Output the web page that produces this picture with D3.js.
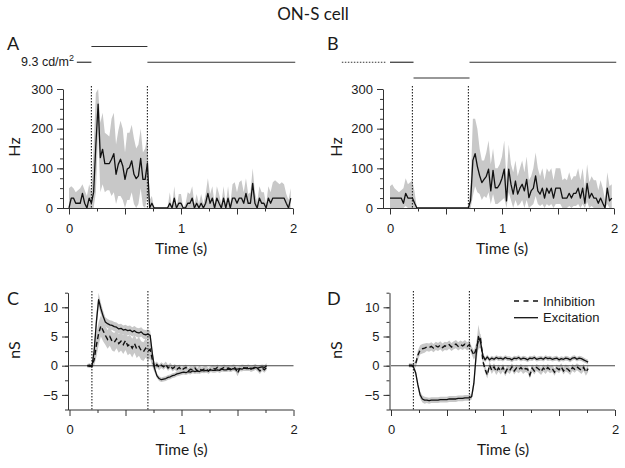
<!DOCTYPE html>
<html>
<head>
<meta charset="utf-8">
<script src="https://cdn.jsdelivr.net/npm/d3@7"></script>
<style>
  body { margin: 0; background: #fff; }
  svg text { fill: #1a1a1a; }
</style>
</head>
<body>
<div id="chart"></div>
<script>
// ---- data ----
// spike rate histograms, one value per 20 ms bin starting at t = 0
var binWidth = 0.02;

var psthA = [0, 25, 25, 12, 12, 12, 37, 12, 0, 25,
    12, 40, 160, 262, 127, 148, 112, 112, 112, 123,
    137, 85, 110, 123, 106, 72, 98, 102, 119, 85,
    74, 81, 125, 72, 72, 113, 0, 12, 0, 0,
    0, 0, 0, 0, 0, 12, 0, 25, 0, 12,
    12, 0, 0, 12, 12, 25, 0, 12, 0, 12,
    0, 12, 37, 12, 25, 0, 25, 12, 0, 25,
    0, 25, 0, 25, 25, 12, 25, 25, 12, 37,
    12, 12, 62, 12, 0, 25, 12, 12, 0, 25,
    12, 25, 25, 25, 25, 25, 25, 12, 0, 25];
var psthAHi = [50, 55, 50, 40, 45, 50, 60, 45, 30, 60,
    40, 150, 290, 300, 215, 240, 190, 185, 180, 225,
    240, 160, 195, 220, 200, 140, 190, 190, 210, 175,
    150, 160, 200, 140, 150, 180, 20, 30, 0, 0,
    0, 0, 0, 0, 0, 40, 0, 55, 0, 35,
    35, 0, 10, 40, 35, 55, 10, 35, 10, 35,
    10, 35, 75, 35, 55, 10, 55, 35, 10, 55,
    10, 55, 10, 60, 65, 40, 65, 70, 40, 75,
    35, 40, 100, 40, 15, 55, 40, 40, 10, 55,
    40, 65, 70, 65, 60, 65, 60, 35, 20, 50];
var psthALo = [0, 0, 0, 0, 0, 0, 0, 0, 0, 0,
    0, 0, 40, 190, 40, 60, 40, 45, 45, 30,
    40, 10, 30, 30, 20, 0, 20, 20, 40, 10,
    0, 10, 50, 5, 0, 30, 0, 0, 0, 0,
    0, 0, 0, 0, 0, 0, 0, 0, 0, 0,
    0, 0, 0, 0, 0, 0, 0, 0, 0, 0,
    0, 0, 0, 0, 0, 0, 0, 0, 0, 0,
    0, 0, 0, 0, 0, 0, 0, 0, 0, 0,
    0, 0, 0, 0, 0, 0, 0, 0, 0, 0,
    0, 0, 0, 0, 0, 0, 0, 0, 0, 0];

var psthB = [25, 25, 25, 25, 25, 25, 12, 37, 25, 25,
    25, 12, 0, 0, 0, 0, 0, 0, 0, 0,
    0, 0, 0, 0, 0, 0, 0, 0, 0, 0,
    0, 0, 0, 0, 0, 0, 20, 120, 137, 105,
    82, 64, 72, 80, 98, 43, 95, 51, 51, 60,
    75, 98, 18, 98, 60, 35, 68, 35, 50, 60,
    43, 72, 26, 43, 50, 81, 43, 35, 50, 25,
    50, 37, 50, 25, 50, 50, 50, 25, 25, 25,
    37, 25, 37, 37, 50, 25, 50, 12, 62, 25,
    37, 25, 25, 12, 25, 12, 0, 50, 18, 25];
var psthBHi = [55, 60, 50, 45, 40, 45, 50, 75, 60, 65,
    70, 40, 0, 0, 0, 0, 0, 0, 0, 0,
    0, 0, 0, 0, 0, 0, 0, 0, 0, 0,
    0, 0, 0, 0, 0, 0, 60, 225, 225, 200,
    150, 120, 120, 140, 170, 110, 150, 100, 100, 110,
    130, 170, 70, 160, 110, 90, 120, 80, 100, 120,
    90, 130, 70, 80, 100, 140, 100, 80, 100, 70,
    100, 90, 100, 70, 100, 100, 100, 70, 75, 70,
    90, 70, 80, 80, 100, 70, 100, 50, 110, 65,
    80, 70, 70, 45, 70, 50, 20, 90, 55, 60];
var psthBLo = [0, 0, 0, 0, 0, 0, 0, 5, 0, 0,
    0, 0, 0, 0, 0, 0, 0, 0, 0, 0,
    0, 0, 0, 0, 0, 0, 0, 0, 0, 0,
    0, 0, 0, 0, 0, 0, 0, 30, 55, 40,
    35, 20, 30, 25, 40, 10, 35, 10, 10, 15,
    20, 25, 0, 40, 20, 0, 20, 5, 10, 20,
    0, 20, 0, 5, 10, 30, 10, 5, 10, 0,
    10, 5, 10, 0, 10, 10, 10, 0, 0, 0,
    5, 0, 5, 5, 10, 0, 10, 0, 15, 0,
    5, 0, 0, 0, 0, 0, 0, 10, 0, 0];

// conductances (nS), sampled every 20 ms from t = 0.16 s
var condStart = 0.16, condStep = 0.02;

var excC = [0, 0.1, -0.2, 2.5, 7.5, 11.3, 9.8, 8.5, 7.5, 7.2,
    7.0, 6.9, 6.7, 6.6, 6.3, 6.4, 6.1, 6.2, 6.0, 6.1,
    5.8, 6.0, 5.7, 5.6, 5.8, 5.4, 5.3, 5.4, 5.2, 2.0,
    -0.5, -1.7, -2.2, -2.4, -2.3, -2.2, -2.0, -1.9, -1.7, -1.6,
    -1.4, -1.3, -1.2, -1.1, -1.2, -1.0, -1.1, -0.9, -1.0, -0.9,
    -1.0, -0.8, -0.9, -0.8, -0.9, -0.7, -0.8, -0.8, -0.7, -0.8,
    -0.6, -0.7, -0.7, -0.6, -0.7, -0.5, -0.6, -0.6, -0.5, -0.6,
    -0.4, -0.5, -0.5, -0.4, -0.5, -0.3, -0.4, -0.3, -0.2, -0.3,
    0.0];
var inhC = [0, -0.1, 0, 1.0, 3.5, 5.5, 6.8, 6.0, 5.2, 4.5,
    5.0, 4.2, 4.0, 4.6, 3.8, 4.2, 3.6, 4.3, 3.4, 3.7,
    3.0, 3.8, 2.9, 3.3, 2.6, 2.4, 3.0, 2.5, 2.8, 1.0,
    -0.4, 0.2, -0.3, 0.1, -0.2, 0.2, -0.4, 0.0, -0.5, -0.2,
    -0.6, -0.3, -0.8, -0.5, -0.3, -0.9, -0.6, -0.7, -0.4, -0.9,
    -0.5, -0.8, -0.6, -0.5, -0.9, -0.6, -0.4, -0.6, -0.3, -0.7,
    -0.5, -0.3, -0.5, -0.4, -0.6, -0.3, -0.4, -1.3, -0.5, -0.3,
    -0.4, -0.4, -0.3, -0.6, -0.4, -0.2, -0.5, -0.9, -0.4, -0.7,
    -0.3];
var excCSd = [0.3, 0.3, 0.3, 0.8, 1.5, 1.2, 1.0, 0.9, 0.8, 0.8,
    0.8, 0.8, 0.8, 0.8, 0.8, 0.8, 0.8, 0.8, 0.8, 0.8,
    0.8, 0.8, 0.8, 0.8, 0.8, 0.8, 0.8, 0.8, 0.8, 0.8,
    0.6, 0.4, 0.4, 0.4, 0.4, 0.4, 0.4, 0.4, 0.4, 0.4,
    0.4, 0.4, 0.4, 0.4, 0.4, 0.4, 0.4, 0.4, 0.4, 0.4,
    0.4, 0.4, 0.4, 0.4, 0.4, 0.4, 0.4, 0.4, 0.4, 0.4,
    0.4, 0.4, 0.4, 0.4, 0.4, 0.4, 0.4, 0.4, 0.4, 0.4,
    0.4, 0.4, 0.4, 0.4, 0.4, 0.4, 0.4, 0.4, 0.4, 0.4,
    0.4];
var inhCSd = [0.3, 0.3, 0.3, 1.0, 2.0, 2.0, 1.8, 1.8, 1.6, 1.6,
    1.6, 1.6, 1.6, 1.6, 1.6, 1.6, 1.6, 1.6, 1.6, 1.6,
    1.6, 1.6, 1.6, 1.6, 1.6, 1.6, 1.6, 1.6, 1.6, 1.2,
    0.8, 0.5, 0.5, 0.5, 0.5, 0.5, 0.5, 0.5, 0.5, 0.5,
    0.5, 0.5, 0.5, 0.5, 0.5, 0.5, 0.5, 0.5, 0.5, 0.5,
    0.5, 0.5, 0.5, 0.5, 0.5, 0.5, 0.5, 0.5, 0.5, 0.5,
    0.5, 0.5, 0.5, 0.5, 0.5, 0.5, 0.5, 0.5, 0.5, 0.5,
    0.5, 0.5, 0.5, 0.5, 0.5, 0.5, 0.5, 0.5, 0.5, 0.5,
    0.5];

var excD = [0.1, 0.1, -0.2, -1.2, -3.3, -5.0, -5.7, -5.9, -5.9, -6.0,
    -5.9, -5.9, -5.9, -5.9, -5.8, -5.8, -5.8, -5.8, -5.7, -5.7,
    -5.7, -5.7, -5.6, -5.6, -5.6, -5.5, -5.5, -5.5, -5.3, -3.0,
    1.8, 5.0, 4.0, 1.8, 1.0, 1.5, 1.0, 1.3, 1.1, 1.4,
    1.2, 1.3, 1.1, 1.4, 1.2, 1.2, 1.0, 1.3, 1.2, 1.4,
    1.1, 1.3, 1.2, 1.0, 1.3, 1.2, 1.4, 1.1, 1.2, 1.3,
    1.1, 1.4, 1.2, 1.3, 1.1, 1.2, 1.3, 1.0, 1.2, 1.1,
    1.3, 1.2, 1.0, 1.3, 1.4, 1.1, 1.3, 1.2, 1.0, 0.8,
    0.6];
var inhD = [0, 0, 0.1, 0.3, 1.8, 2.7, 2.9, 3.0, 3.2, 3.1,
    3.3, 3.0, 3.4, 3.2, 3.5, 3.1, 3.4, 3.3, 3.6, 3.2,
    3.5, 3.7, 3.3, 3.6, 3.4, 3.7, 3.3, 3.6, 2.6, 1.8,
    2.8, 4.3, 4.6, 0.8, -0.6, -1.6, 0.1, -0.8, -0.2, -1.0,
    -0.4, -0.9, -0.3, -1.2, -0.5, -0.8, -0.2, -0.9, -0.4, -0.7,
    -0.3, -0.8, -0.5, -0.6, -1.6, -0.4, -0.9, -0.3, -0.6, -1.0,
    -0.4, -0.8, -0.3, -0.7, -0.5, -1.1, -0.4, -0.7, -0.2, -0.9,
    -0.4, -0.6, -1.0, -0.3, -0.6, -0.2, -0.5, -0.8, -0.3, -1.1,
    -0.5];
var excDSd = [0.3, 0.3, 0.3, 0.5, 0.6, 0.6, 0.6, 0.6, 0.5, 0.5,
    0.5, 0.5, 0.5, 0.5, 0.5, 0.5, 0.5, 0.5, 0.5, 0.5,
    0.5, 0.5, 0.5, 0.5, 0.5, 0.5, 0.5, 0.5, 0.5, 1.0,
    1.5, 2.0, 1.0, 0.5, 0.4, 0.4, 0.4, 0.4, 0.4, 0.4,
    0.4, 0.4, 0.4, 0.4, 0.4, 0.4, 0.4, 0.4, 0.4, 0.4,
    0.4, 0.4, 0.4, 0.4, 0.4, 0.4, 0.4, 0.4, 0.4, 0.4,
    0.4, 0.4, 0.4, 0.4, 0.4, 0.4, 0.4, 0.4, 0.4, 0.4,
    0.4, 0.4, 0.4, 0.4, 0.4, 0.4, 0.4, 0.4, 0.4, 0.4,
    0.4];
var inhDSd = [0.3, 0.3, 0.3, 0.6, 0.8, 0.8, 0.8, 0.8, 0.7, 0.7,
    0.7, 0.7, 0.7, 0.7, 0.7, 0.7, 0.7, 0.7, 0.7, 0.7,
    0.7, 0.7, 0.7, 0.7, 0.7, 0.7, 0.7, 0.7, 0.7, 0.8,
    1.0, 1.5, 0.8, 0.6, 0.6, 0.6, 0.6, 0.6, 0.6, 0.6,
    0.6, 0.6, 0.6, 0.6, 0.6, 0.6, 0.6, 0.6, 0.6, 0.6,
    0.6, 0.6, 0.6, 0.6, 0.6, 0.6, 0.6, 0.6, 0.6, 0.6,
    0.6, 0.6, 0.6, 0.6, 0.6, 0.6, 0.6, 0.6, 0.6, 0.6,
    0.6, 0.6, 0.6, 0.6, 0.6, 0.6, 0.6, 0.6, 0.6, 0.6,
    0.6];

// stimulus: [start s, end s, luminance level]
var stimA = [[0.07, 0.2, 1], [0.2, 0.7, 2], [0.7, 2.02, 1]];
var stimB = [[0, 0.21, 1], [0.21, 0.71, 0], [0.71, 2.02, 1]];
var stimBDark = [-0.43, -0.04];
var stepTimes = [0.2, 0.7];
var legendNames = ["Inhibition", "Excitation"];

// ---- drawing ----
var tickFont = "'Liberation Sans', Arial, sans-serif";
var labelFont = "Lato, 'Open Sans', sans-serif";
var ink = "#1a1a1a";

var svg = d3.select("#chart").append("svg")
    .attr("width", 625)
    .attr("height", 468);

svg.append("text")
    .attr("x", 313).attr("y", 20)
    .attr("text-anchor", "middle")
    .style("font-family", labelFont)
    .style("font-size", "17px").attr("fill", "#2a2a2a")
    .text("ON-S cell");

function letter(x, y, s) {
    svg.append("text").attr("x", x).attr("y", y)
        .style("font-family", labelFont)
        .style("font-size", "18px").attr("fill", "#2a2a2a")
        .text(s);
}

function yTitle(x, y, s) {
    svg.append("text")
        .attr("transform", "translate(" + x + "," + y + ") rotate(-90)")
        .attr("text-anchor", "middle")
        .style("font-family", labelFont)
        .style("font-size", "16px").attr("fill", "#2a2a2a")
        .text(s);
}

function styleAxis(sel) {
    sel.selectAll("line").attr("stroke", "#333");
    sel.selectAll("path").attr("stroke", "#333");
    sel.selectAll("text").style("font-family", tickFont).style("font-size", "13px").attr("fill", ink);
}

function drawAxes(g, x, y, yAxisX, xAxisY, yMinorStep, yLabels) {
    var yDom = y.domain();
    var yMinor = d3.axisLeft(y)
        .tickValues(d3.range(yDom[0], yDom[1] + 0.001, yMinorStep))
        .tickSize(3).tickSizeOuter(0).tickFormat("");
    var yMajor = d3.axisLeft(y)
        .tickValues(yLabels).tickSize(6).tickPadding(4);
    g.append("g").attr("transform", "translate(" + yAxisX + ",0)").call(yMinor).call(styleAxis);
    g.append("g").attr("transform", "translate(" + yAxisX + ",0)").call(yMajor)
        .call(function (s) { s.select(".domain").remove(); }).call(styleAxis);

    g.append("line")
        .attr("x1", yAxisX).attr("x2", x(2))
        .attr("y1", xAxisY).attr("y2", xAxisY)
        .attr("stroke", "#333");
    var xMinor = d3.axisBottom(x).tickValues([0.25, 0.75, 1.25, 1.75]).tickSize(3).tickFormat("");
    var xMid = d3.axisBottom(x).tickValues([0, 0.5, 1, 1.5, 2]).tickSize(6).tickFormat("");
    var xLab = d3.axisBottom(x).tickValues([0, 1, 2]).tickSize(0).tickPadding(15).tickFormat(d3.format("d"));
    [xMinor, xMid, xLab].forEach(function (ax) {
        g.append("g").attr("transform", "translate(0," + xAxisY + ")").call(ax)
            .call(function (s) { s.select(".domain").remove(); }).call(styleAxis);
    });

    g.append("text")
        .attr("x", x(1)).attr("y", xAxisY + 45)
        .attr("text-anchor", "middle")
        .style("font-family", labelFont)
        .style("font-size", "15.5px").attr("fill", "#2a2a2a")
        .text("Time (s)");
}

function stepLines(g, x, yTop, yBottom) {
    g.selectAll(".step").data(stepTimes).enter().append("line")
        .attr("x1", function (d) { return x(d); })
        .attr("x2", function (d) { return x(d); })
        .attr("y1", yTop).attr("y2", yBottom)
        .attr("stroke", "#222").attr("stroke-width", 1.1)
        .attr("stroke-dasharray", "1.5,1.5");
}

function drawStim(g, x, segs) {
    var lum = d3.scaleLinear().domain([0, 2]).range([78, 46.5]);
    g.selectAll(".stim").data(segs).enter().append("line")
        .attr("x1", function (d) { return x(d[0]); })
        .attr("x2", function (d) { return x(d[1]); })
        .attr("y1", function (d) { return lum(d[2]); })
        .attr("y2", function (d) { return lum(d[2]); })
        .attr("stroke", "#333").attr("stroke-width", 1.2);
    return lum;
}

function drawPsth(p) {
    var x = d3.scaleLinear().domain([0, 2]).range([p.x0, p.x0 + 224]);
    var y = d3.scaleLinear().domain([0, 300]).range([208, 89]);
    var g = svg.append("g");
    var pts = p.mean.map(function (v, i) {
        return { t: i * binWidth, m: v, hi: p.hi[i], lo: p.lo[i] };
    });

    g.append("path").datum(pts)
        .attr("d", d3.area()
            .x(function (d) { return x(d.t); })
            .y0(function (d) { return y(d.lo); })
            .y1(function (d) { return y(d.hi); }))
        .attr("fill", "#c8c8c8");

    stepLines(g, x, 86, 208);

    g.append("path").datum(pts)
        .attr("d", d3.line()
            .x(function (d) { return x(d.t); })
            .y(function (d) { return y(d.m); }))
        .attr("fill", "none").attr("stroke", "#111")
        .attr("stroke-width", 1.3).attr("stroke-linejoin", "round");

    drawAxes(g, x, y, p.yAxisX, 208.5, 25, [0, 100, 200, 300]);
    var lum = drawStim(g, x, p.stim);
    return { x: x, lum: lum };
}

function drawCond(p) {
    var x = d3.scaleLinear().domain([0, 2]).range([p.x0, p.x0 + 224]);
    var y = d3.scaleLinear().domain([-7.5, 12.5]).range([409.5, 292.7]);
    var g = svg.append("g");
    var pts = p.exc.map(function (v, i) {
        return { t: condStart + i * condStep, e: v, i: p.inh[i], es: p.excSd[i], is: p.inhSd[i] };
    });

    g.append("path").datum(pts)
        .attr("d", d3.area()
            .x(function (d) { return x(d.t); })
            .y0(function (d) { return y(d.i - d.is); })
            .y1(function (d) { return y(d.i + d.is); }))
        .attr("fill", "#c8c8c8");
    g.append("path").datum(pts)
        .attr("d", d3.area()
            .x(function (d) { return x(d.t); })
            .y0(function (d) { return y(d.e - d.es); })
            .y1(function (d) { return y(d.e + d.es); }))
        .attr("fill", "#c8c8c8");

    g.append("line")
        .attr("x1", x(0)).attr("x2", x(2))
        .attr("y1", y(0)).attr("y2", y(0))
        .attr("stroke", "#444").attr("stroke-width", 1.1);

    stepLines(g, x, 291, 410);

    g.append("path").datum(pts)
        .attr("d", d3.line()
            .x(function (d) { return x(d.t); })
            .y(function (d) { return y(d.i); }))
        .attr("fill", "none").attr("stroke", "#111")
        .attr("stroke-width", 1.4).attr("stroke-dasharray", "5,3");
    g.append("path").datum(pts)
        .attr("d", d3.line()
            .x(function (d) { return x(d.t); })
            .y(function (d) { return y(d.e); }))
        .attr("fill", "none").attr("stroke", "#111")
        .attr("stroke-width", 1.3).attr("stroke-linejoin", "round");

    drawAxes(g, x, y, p.yAxisX, 410, 2.5, [-5, 0, 5, 10]);
    return g;
}

// panel A
var pa = drawPsth({ x0: 69, yAxisX: 63, mean: psthA, hi: psthAHi, lo: psthALo, stim: stimA });
var lumText = svg.append("text")
    .attr("x", 74).attr("y", 66)
    .attr("text-anchor", "end")
    .style("font-family", tickFont).style("font-size", "12.5px");
lumText.append("tspan").text("9.3 cd/m");
lumText.append("tspan").attr("dy", -5).style("font-size", "9px").text("2");
letter(7, 50, "A");
yTitle(20, 147, "Hz");

// panel B
var pb = drawPsth({ x0: 390, yAxisX: 383, mean: psthB, hi: psthBHi, lo: psthBLo, stim: stimB });
svg.append("line")
    .attr("x1", pb.x(stimBDark[0])).attr("x2", pb.x(stimBDark[1]))
    .attr("y1", pb.lum(1)).attr("y2", pb.lum(1))
    .attr("stroke", "#333").attr("stroke-width", 1.2)
    .attr("stroke-dasharray", "1.5,1.5");
letter(327, 50, "B");
yTitle(342, 147, "Hz");

// panel C
drawCond({ x0: 69.5, yAxisX: 68, exc: excC, inh: inhC, excSd: excCSd, inhSd: inhCSd });
letter(7, 305, "C");
yTitle(20, 350, "nS");

// panel D
var gd = drawCond({ x0: 391, yAxisX: 389.5, exc: excD, inh: inhD, excSd: excDSd, inhSd: inhDSd });
letter(327, 305, "D");
yTitle(342, 350, "nS");

var leg = gd.selectAll(".leg").data(legendNames).enter().append("g")
    .attr("transform", function (d, i) { return "translate(514," + (301 + i * 16.7) + ")"; });
leg.append("line")
    .attr("x1", 0).attr("x2", 24)
    .attr("stroke", "#111").attr("stroke-width", 1.3)
    .attr("stroke-dasharray", function (d, i) { return i === 0 ? "5,4.5" : null; });
leg.append("text")
    .attr("x", 29).attr("y", 4.5)
    .style("font-family", tickFont).style("font-size", "13px")
    .text(function (d) { return d; });
</script>
</body>
</html>
